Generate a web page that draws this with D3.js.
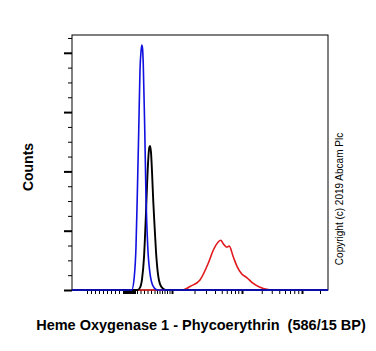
<!DOCTYPE html>
<html>
<head>
<meta charset="utf-8">
<script src="https://cdn.jsdelivr.net/npm/d3@7"></script>
<style>
  body { margin: 0; background: #fff; }
  text { font-family: "Liberation Sans", Arial, sans-serif; }
</style>
</head>
<body>
<div id="chart"></div>
<script>
// channel units (0-1024 display scale), counts
const blueCh = [0, 239, 249, 256, 261, 267, 272, 276, 279, 282, 285, 291, 296, 303, 312, 325, 341, 1024];
const blueCount = [0, 0, 22, 73, 157, 270, 371, 402, 413, 408, 382, 270, 157, 73, 28, 6, 0, 0];

const blackCh = [0, 262, 272, 280, 288, 295, 300, 305, 309, 312, 316, 320, 325, 330, 336, 343, 352, 365, 375, 1024];
const blackCount = [0, 0, 4, 18, 55, 120, 175, 220, 240, 243, 232, 200, 150, 110, 65, 30, 10, 2, 0, 0];

const redCh = [0, 443, 472, 512, 545, 565, 585, 595, 605, 619, 629, 645, 661, 679, 699, 725, 752, 779, 799, 1024];
const redCount = [0, 0, 6, 17, 45, 67, 81, 84, 78, 72, 74, 56, 39, 27, 21, 11, 4.5, 1, 0, 0];

// axis ticks (channel units)
const xMajorTicks = [400, 680, 920];
const xMinorTicks = [60, 76, 92, 108, 124, 140, 156, 172, 188,
    204, 208, 212, 216, 220, 224, 228, 232, 236, 240, 244, 248, 252,
    260, 274, 288, 302, 316, 330, 340, 350, 360, 370, 380, 390,
    490, 536, 572, 599, 619, 636, 652, 665,
    759, 799, 829, 852, 872, 889, 905, 992];
const yMajorTicks = [0, 100, 200, 300, 400];
const yMinorTicks = [25, 50, 75, 125, 150, 175, 225, 250, 275, 325, 350, 375, 425];

const xLabel = "Heme Oxygenase 1 - Phycoerythrin  (586/15 BP)";
const yLabel = "Counts";
const copyright = "Copyright (c) 2019 Abcam Plc";

const width = 376, height = 351;
const margin = { top: 35, right: 48, bottom: 61, left: 72 };

const svg = d3.select("#chart")
    .append("svg")
    .attr("width", width)
    .attr("height", height);

const x = d3.scaleLinear().domain([0, 1024]).range([margin.left, width - margin.right]);
const y = d3.scaleLinear().domain([0, 430]).range([height - margin.bottom, margin.top]);

// y ticks
svg.append("g")
    .attr("transform", "translate(" + margin.left + ",0)")
    .call(d3.axisLeft(y).tickValues(yMinorTicks).tickSize(4).tickFormat("").tickSizeOuter(0))
    .call(g => g.select(".domain").remove())
    .selectAll("line").attr("stroke", "#000").attr("stroke-width", 1);

svg.append("g")
    .attr("transform", "translate(" + margin.left + ",0)")
    .call(d3.axisLeft(y).tickValues(yMajorTicks).tickSize(8).tickFormat("").tickSizeOuter(0))
    .call(g => g.select(".domain").remove())
    .selectAll("line").attr("stroke", "#000").attr("stroke-width", 2);

// x ticks
svg.append("g")
    .attr("transform", "translate(0," + (height - margin.bottom) + ")")
    .call(d3.axisBottom(x).tickValues(xMinorTicks).tickSize(4).tickFormat("").tickSizeOuter(0))
    .call(g => g.select(".domain").remove())
    .selectAll("line").attr("stroke", "#000").attr("stroke-width", 1);

svg.append("g")
    .attr("transform", "translate(0," + (height - margin.bottom) + ")")
    .call(d3.axisBottom(x).tickValues(xMajorTicks).tickSize(4).tickFormat("").tickSizeOuter(0))
    .call(g => g.select(".domain").remove())
    .selectAll("line").attr("stroke", "#000").attr("stroke-width", 2);

// frame
svg.append("rect")
    .attr("x", margin.left)
    .attr("y", margin.top)
    .attr("width", width - margin.left - margin.right)
    .attr("height", height - margin.top - margin.bottom)
    .attr("fill", "none")
    .attr("stroke", "#000")
    .attr("stroke-width", 1);

// histograms
const line = d3.line()
    .x(d => x(d[0]))
    .y(d => y(d[1]))
    .curve(d3.curveMonotoneX);

const series = [
    { ch: redCh, count: redCount, color: "#e0191c", w: 1.6 },
    { ch: blackCh, count: blackCount, color: "#000000", w: 1.9 },
    { ch: blueCh, count: blueCount, color: "#1010e0", w: 1.6 }
];

svg.append("g")
    .selectAll("path")
    .data(series)
    .join("path")
    .attr("d", s => line(s.ch.map((c, i) => [c, s.count[i]])))
    .attr("fill", "none")
    .attr("stroke", s => s.color)
    .attr("stroke-width", s => s.w)
    .attr("stroke-linejoin", "round");

// labels
svg.append("text")
    .attr("transform", "translate(33,167) rotate(-90)")
    .attr("text-anchor", "middle")
    .attr("font-weight", "bold")
    .style("font-size", "14px")
    .text(yLabel);

svg.append("text")
    .attr("x", 201)
    .attr("y", 330)
    .attr("text-anchor", "middle")
    .attr("font-weight", "bold")
    .style("font-size", "14.5px")
    .style("white-space", "pre")
    .text(xLabel);

svg.append("text")
    .attr("transform", "translate(343,199) rotate(-90)")
    .attr("text-anchor", "middle")
    .style("font-size", "10px")
    .text(copyright);
</script>
</body>
</html>
